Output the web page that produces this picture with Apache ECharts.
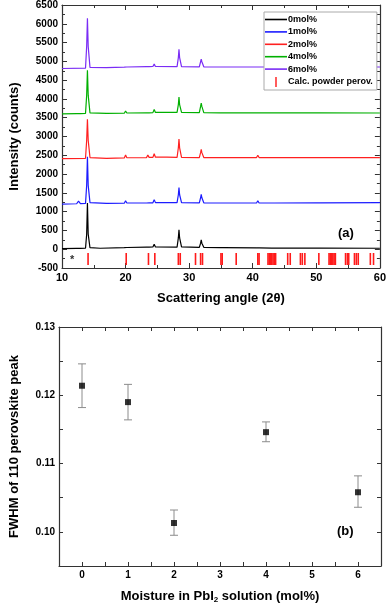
<!DOCTYPE html>
<html>
<head>
<meta charset="utf-8">
<script src="https://cdn.jsdelivr.net/npm/echarts@6/dist/echarts.min.js"></script>
<style>
html, body { margin: 0; padding: 0; background: #fff; }
#chart { width: 389px; height: 606px; }
</style>
</head>
<body>
<div id="chart"></div>
<script>
// (a) XRD patterns, [2theta, counts] (offset as plotted)
const xrd0 = [[10,15],[12.3,20],[12.6,70],[12.9,20],[13.7,25],[13.88,400],[14.0,1230],[14.12,400],[14.4,40],[16,25],[19.8,40],[20.0,85],[20.2,45],[23.3,55],[23.5,80],[23.7,55],[24.3,60],[24.5,135],[24.7,60],[28.1,55],[28.3,300],[28.4,520],[28.5,300],[28.8,60],[31.6,50],[31.8,160],[31.9,250],[32.0,160],[32.3,50],[34.9,40],[35.1,65],[35.3,40],[40.6,35],[40.8,80],[41.0,35],[43.0,30],[43.2,65],[43.4,30],[50.1,30],[50.3,45],[50.5,30],[60,25]]
const xrd1 = [[10,1200],[12.3,1210],[12.6,1280],[12.9,1215],[13.7,1220],[13.88,1700],[14.0,2460],[14.12,1700],[14.4,1240],[17,1220],[19.8,1225],[20.0,1290],[20.2,1230],[23.3,1230],[23.5,1280],[23.7,1235],[24.3,1235],[24.5,1320],[24.7,1240],[28.1,1240],[28.3,1450],[28.4,1640],[28.5,1450],[28.8,1240],[31.6,1235],[31.8,1370],[31.9,1460],[32.0,1370],[32.3,1235],[34.9,1230],[35.1,1265],[35.3,1230],[40.6,1230],[40.8,1290],[41.0,1230],[43.0,1230],[43.2,1265],[43.4,1230],[50.1,1235],[50.3,1260],[50.5,1235],[60,1240]]
const xrd2 = [[10,2410],[13.7,2420],[13.88,2900],[14.0,3460],[14.12,2900],[14.4,2440],[17,2420],[19.8,2430],[20.0,2510],[20.2,2435],[23.3,2440],[23.5,2510],[23.7,2445],[24.3,2445],[24.5,2540],[24.7,2450],[26.5,2450],[28.1,2445],[28.3,2700],[28.4,2930],[28.5,2700],[28.8,2445],[31.6,2440],[31.8,2570],[31.9,2660],[32.0,2570],[32.3,2440],[34.9,2440],[35.1,2475],[35.3,2440],[40.6,2440],[40.8,2500],[41.0,2440],[43.0,2440],[43.2,2490],[43.4,2440],[50.1,2440],[50.3,2470],[50.5,2440],[60,2440]]
const xrd4 = [[10,3600],[12.3,3610],[12.6,3640],[12.9,3610],[13.7,3615],[13.88,4100],[14.0,4760],[14.12,4100],[14.4,3630],[17,3615],[19.8,3620],[20.0,3680],[20.2,3625],[23.3,3630],[23.5,3670],[23.7,3630],[24.3,3635],[24.5,3720],[24.7,3640],[28.1,3640],[28.3,3850],[28.4,4050],[28.5,3850],[28.8,3640],[31.6,3635],[31.8,3800],[31.9,3890],[32.0,3800],[32.3,3635],[34.9,3630],[35.1,3660],[35.3,3630],[40.6,3630],[40.8,3665],[41.0,3630],[43.0,3630],[43.2,3655],[43.4,3630],[50.1,3630],[50.3,3655],[50.5,3630],[60,3625]]
const xrd6 = [[10,4810],[13.7,4820],[13.88,5400],[14.0,6150],[14.12,5400],[14.4,4840],[17,4835],[19.8,4845],[20.0,4890],[20.2,4850],[23.3,4860],[23.5,4900],[23.7,4860],[24.3,4865],[24.5,4930],[24.7,4865],[28.1,4860],[28.3,5100],[28.4,5320],[28.5,5100],[28.8,4860],[31.6,4855],[31.8,4990],[31.9,5060],[32.0,4990],[32.3,4855],[34.9,4850],[35.1,4880],[35.3,4850],[40.6,4850],[40.8,4880],[41.0,4850],[43.0,4850],[43.2,4865],[43.4,4850],[50.1,4850],[50.3,4865],[50.5,4850],[60,4850]]
const calcPeaks = [14.1, 20.1, 23.6, 24.6, 28.3, 28.6, 31.0, 31.8, 32.1, 35.0, 35.2, 37.4, 40.8, 41.0, 42.4, 42.6, 42.8, 43.0, 43.2, 43.4, 43.6, 45.5, 45.9, 47.5, 47.8, 48.2, 50.4, 52.0, 52.2, 52.4, 52.6, 52.8, 53.0, 54.6, 54.9, 55.1, 56.0, 56.3, 56.6, 58.5, 59.0]
const seriesNames = ['0mol%', '1mol%', '2mol%', '4mol%', '6mol%']

// (b) FWHM of the 110 peak
const moisture = [0, 1, 2, 4, 6]
const fwhm = [0.1214, 0.1190, 0.1013, 0.1146, 0.1058]
const fwhmLow = [0.1182, 0.1164, 0.0995, 0.1132, 0.1036]
const fwhmHigh = [0.1246, 0.1216, 0.1032, 0.1161, 0.1082]

const font = 'Liberation Sans'
const axisColor = '#333'
const colors = ['#000000', '#1c1cff', '#ff2020', '#00b000', '#7a2cf5']

function boxAxis(extra) {
    return Object.assign({
        axisLine: { show: true, onZero: false, lineStyle: { color: axisColor, width: 1.2 } },
        axisTick: { show: true, inside: true, length: 5, lineStyle: { color: axisColor } },
        minorTick: { show: true, splitNumber: 2, length: 3, lineStyle: { color: axisColor } },
        splitLine: { show: false },
        axisLabel: { show: false }
    }, extra)
}
// panel (b) ticks every half step, all the same length
function halfAxis(extra) {
    let a = boxAxis(extra)
    a.axisTick = { show: true, inside: true, length: 4, lineStyle: { color: axisColor } }
    a.minorTick = { show: false }
    return a
}
function onStep(v, step) {
    return Math.abs(v / step - Math.round(v / step)) < 1e-6
}
const labelStyle = { show: true, fontFamily: font, fontWeight: 'bold', fontSize: 10, color: '#000', margin: 4 }
const nameStyle = { fontFamily: font, fontWeight: 'bold', fontSize: 13, color: '#000' }
const lineIcon = 'path://M0,0 L22,0 L22,1.6 L0,1.6 Z'

let myChart = echarts.init(document.getElementById('chart'))

let lineSeries = [xrd0, xrd1, xrd2, xrd4, xrd6].map(function (d, i) {
    return {
        name: seriesNames[i],
        type: 'line',
        xAxisIndex: 0,
        yAxisIndex: 0,
        data: d,
        symbol: 'none',
        color: colors[i],
        lineStyle: { width: 1.2 }
    }
})

myChart.setOption({
    animation: false,
    grid: [
        { left: 56, right: 8, top: 5, height: 263 },
        { left: 56, right: 8, top: 327, height: 239 }
    ],
    legend: {
        orient: 'vertical',
        left: 264,
        top: 12,
        width: 110,
        padding: [3, 4, 3, 1],
        itemWidth: 22,
        itemHeight: 10,
        itemGap: 3.4,
        symbolKeepAspect: true,
        borderColor: '#aaa',
        borderWidth: 1,
        backgroundColor: '#fff',
        textStyle: { fontFamily: font, fontWeight: 'bold', fontSize: 9, color: '#000', padding: [0, 0, 0, -4] },
        data: seriesNames.map(function (n) { return { name: n, icon: lineIcon } })
            .concat([{ name: 'Calc. powder perov.', icon: 'path://M0,0 L1,0 L1,7 L0,7 Z' }])
    },
    xAxis: [
        boxAxis({ gridIndex: 0, type: 'value', min: 10, max: 60, interval: 10, position: 'bottom',
            axisLabel: Object.assign({}, labelStyle, { fontSize: 11 }),
            name: 'Scattering angle (2θ)', nameLocation: 'middle', nameGap: 24, nameTextStyle: nameStyle }),
        boxAxis({ gridIndex: 0, type: 'value', min: 10, max: 60, interval: 10, position: 'top' }),
        halfAxis({ gridIndex: 1, type: 'value', min: -0.5, max: 6.5, interval: 0.5, position: 'bottom',
            axisLabel: Object.assign({}, labelStyle, { formatter: function (v) { return onStep(v, 1) ? String(Math.round(v)) : '' } }),
            name: 'Moisture in PbI{sub|2} solution (mol%)', nameLocation: 'middle', nameGap: 23,
            nameTextStyle: Object.assign({}, nameStyle, { rich: { sub: { fontFamily: font, fontWeight: 'bold', fontSize: 8, verticalAlign: 'bottom', padding: [7, 0, 0, 0] } } }) }),
        halfAxis({ gridIndex: 1, type: 'value', min: -0.5, max: 6.5, interval: 0.5, position: 'top' })
    ],
    yAxis: [
        boxAxis({ gridIndex: 0, type: 'value', min: -500, max: 6500, interval: 500, position: 'left',
            axisLabel: Object.assign({}, labelStyle, { formatter: function (v) { return String(v) } }),
            name: 'Intensity (counts)', nameLocation: 'middle', nameGap: 41, nameTextStyle: nameStyle }),
        boxAxis({ gridIndex: 0, type: 'value', min: -500, max: 6500, interval: 500, position: 'right' }),
        halfAxis({ gridIndex: 1, type: 'value', min: 0.095, max: 0.13, interval: 0.005, position: 'left',
            axisLabel: Object.assign({}, labelStyle, { formatter: function (v) { return onStep(v, 0.01) ? v.toFixed(2) : '' } }),
            name: 'FWHM of 110 perovskite peak', nameLocation: 'middle', nameGap: 38, nameTextStyle: nameStyle }),
        halfAxis({ gridIndex: 1, type: 'value', min: 0.095, max: 0.13, interval: 0.005, position: 'right' })
    ],
    series: lineSeries.concat([
        {
            name: 'Calc. powder perov.',
            type: 'custom',
            xAxisIndex: 0,
            yAxisIndex: 0,
            color: '#ff1a1a',
            data: calcPeaks.map(function (p) { return [p] }),
            renderItem: function (params, api) {
                let a = api.coord([api.value(0), -100])
                let b = api.coord([api.value(0), -420])
                return { type: 'line', shape: { x1: a[0], y1: a[1], x2: b[0], y2: b[1] },
                    style: { stroke: '#ff1a1a', lineWidth: 1.6 } }
            }
        },
        {
            type: 'custom',
            xAxisIndex: 2,
            yAxisIndex: 2,
            data: moisture.map(function (m, i) { return [m, fwhmLow[i], fwhmHigh[i]] }),
            renderItem: function (params, api) {
                let lo = api.coord([api.value(0), api.value(1)])
                let hi = api.coord([api.value(0), api.value(2)])
                let st = { stroke: '#8c8c8c', lineWidth: 1 }
                return { type: 'group', children: [
                    { type: 'line', shape: { x1: lo[0], y1: lo[1], x2: hi[0], y2: hi[1] }, style: st },
                    { type: 'line', shape: { x1: lo[0] - 4, y1: lo[1], x2: lo[0] + 4, y2: lo[1] }, style: st },
                    { type: 'line', shape: { x1: hi[0] - 4, y1: hi[1], x2: hi[0] + 4, y2: hi[1] }, style: st }
                ] }
            }
        },
        {
            type: 'scatter',
            xAxisIndex: 2,
            yAxisIndex: 2,
            symbol: 'rect',
            symbolSize: 6,
            itemStyle: { color: '#000' },
            data: moisture.map(function (m, i) { return [m, fwhm[i]] })
        }
    ]),
    graphic: [
        { type: 'text', left: 338, top: 227, style: { text: '(a)', font: 'bold 13px "Liberation Sans"', fill: '#000' } },
        { type: 'text', left: 337, top: 525, style: { text: '(b)', font: 'bold 13px "Liberation Sans"', fill: '#000' } },
        { type: 'text', left: 70, top: 254, style: { text: '*', font: 'bold 11px "Liberation Sans"', fill: '#333' } }
    ]
})
window.addEventListener('resize', function () {
    myChart.resize()
})
</script>
</body>
</html>
